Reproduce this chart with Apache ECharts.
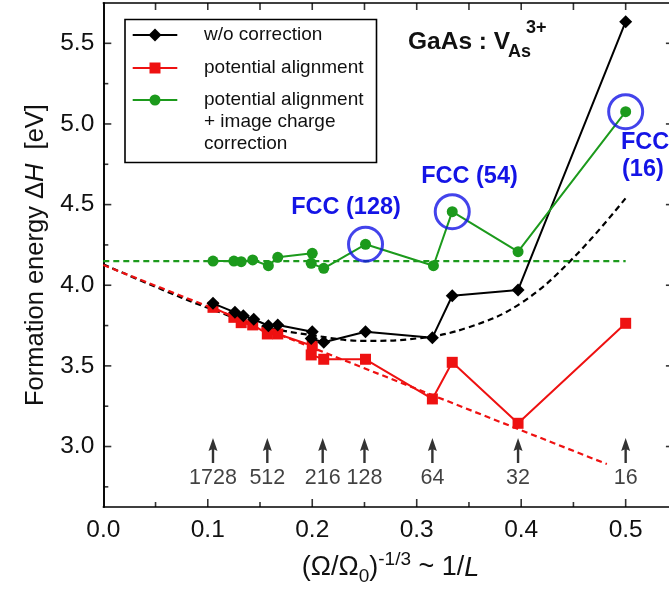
<!DOCTYPE html>
<html><head><meta charset="utf-8">
<script src="https://cdn.jsdelivr.net/npm/echarts@6/dist/echarts.min.js"></script>
<style>html,body{margin:0;padding:0;background:#fff}#c{width:669px;height:593px}</style>
</head><body><div id="c"></div>
<script>
// ---- data ----
const woX = [0.105,0.126,0.134,0.144,0.158,0.167,0.200,0.199,0.211,0.251,0.315,0.334,0.397,0.500];
const woY = [3.888,3.832,3.811,3.789,3.749,3.754,3.712,3.670,3.646,3.712,3.675,3.935,3.971,5.634];
const paX = [0.105,0.125,0.132,0.143,0.157,0.167,0.200,0.199,0.211,0.251,0.315,0.334,0.397,0.500];
const paY = [3.863,3.801,3.768,3.754,3.698,3.698,3.625,3.568,3.541,3.541,3.295,3.522,3.144,3.764];
const icX = [0.105,0.125,0.132,0.143,0.158,0.167,0.200,0.199,0.211,0.251,0.316,0.334,0.397,0.500];
const icY = [4.150,4.150,4.146,4.157,4.121,4.173,4.198,4.136,4.105,4.254,4.121,4.456,4.208,5.076];
const fitWoX = [0,0.05,0.10,0.15,0.20,0.25,0.30,0.35,0.40,0.45,0.50];
const fitWoY = [4.13,3.99,3.86,3.75,3.69,3.655,3.67,3.74,3.89,4.17,4.54];
const fitPaX = [0,0.482];
const fitPaY = [4.125,2.891];
const fitIcX = [0,0.5];
const fitIcY = [4.15,4.15];
const fccX = [0.251,0.334,0.500];
const fccY = [4.254,4.456,5.076];
const cellN = ['1728','512','216','128','64','32','16'];
const cellX = [0.105,0.157,0.210,0.250,0.315,0.397,0.500];
const arrowY = 2.976;
const xMajor = [0,0.1,0.2,0.3,0.4,0.5];
const yMajor = [3.0,3.5,4.0,4.5,5.0,5.5];
const yMinor = [2.75,3.25,3.75,4.25,4.75,5.25];
const xMinor = [0.05,0.15,0.25,0.35,0.45];
const xTop = [0.05,0.1,0.15,0.2,0.25,0.3,0.35,0.4,0.45,0.5];

const X_MIN = 0, X_MAX = 0.55, Y_MIN = 2.625, Y_MAX = 5.75;
const zip = (a,b)=>a.map((v,i)=>[v,b[i]]);
const F = 'Liberation Sans, Arial, Helvetica, sans-serif';
const BLACK='#000000', RED='#ee1111', GREEN='#1c9a1c', BLUE='#1414e6';
const near = (v, arr) => arr.some(a => Math.abs(a - v) < 1e-6);

const chart = echarts.init(document.getElementById('c'), null, {renderer:'canvas'});
const axLine = {show:true, lineStyle:{color:'#000', width:1.6}};
const tickSeries = (data, size, offset) => ({type:'scatter', data, symbol:'rect', symbolSize:size, symbolOffset:offset,
  itemStyle:{color:'#000'}, silent:true, z:8, clip:false});
const option = {
  animation:false,
  grid:{left:103.3, top:3, width:574.6, height:504, containLabel:false, outerBoundsMode:'none'},
  xAxis:[
    {type:'value', position:'bottom', min:X_MIN, max:X_MAX, interval:0.1, axisLine:axLine, splitLine:{show:false},
     axisTick:{show:false},
     axisLabel:{showMaxLabel:false, formatter:v=>near(v,xMajor)?v.toFixed(1):'', fontFamily:F, fontSize:24.5, color:'#111', margin:11},
     name:'{n|(Ω/Ω}{s|0}{n|)}{p|-1/3}{n| ~ 1/}{i|L}', nameLocation:'middle', nameGap:43,
     nameTextStyle:{rich:{
       n:{fontFamily:F,fontSize:27,color:'#111',lineHeight:36,verticalAlign:'middle'},
       s:{fontFamily:F,fontSize:19,color:'#111',lineHeight:31,verticalAlign:'bottom'},
       p:{fontFamily:F,fontSize:19,color:'#111',lineHeight:36,verticalAlign:'top'},
       i:{fontFamily:F,fontSize:27,color:'#111',fontStyle:'italic',lineHeight:36,verticalAlign:'middle'}}}},
    {type:'value', position:'top', min:X_MIN, max:X_MAX, axisLine:axLine, splitLine:{show:false}, axisTick:{show:false}, axisLabel:{show:false}}
  ],
  yAxis:[
    {type:'value', position:'left', min:Y_MIN, max:Y_MAX, interval:0.125, axisLine:axLine, splitLine:{show:false},
     axisTick:{show:false},
     axisLabel:{formatter:v=>near(v,yMajor)?v.toFixed(1):'', fontFamily:F, fontSize:24.5, color:'#111', margin:9},
     name:'{n|Formation energy Δ}{i|H}{n|  [eV]}', nameLocation:'middle', nameRotate:90, nameGap:50,
     nameTextStyle:{rich:{
       n:{fontFamily:F,fontSize:25.5,color:'#111'},
       i:{fontFamily:F,fontSize:25.5,color:'#111',fontStyle:'italic'}}}},
    {type:'value', position:'right', min:Y_MIN, max:Y_MAX, axisLine:axLine, splitLine:{show:false}, axisTick:{show:false}, axisLabel:{show:false}}
  ],
  series:[
    // axis ticks (inward), placed through the axes' own scales
    tickSeries(yMajor.map(v=>[X_MIN,v]), [8,1.6], [4,0]),
    tickSeries(yMinor.map(v=>[X_MIN,v]), [5,1.6], [2.5,0]),
    tickSeries(yMajor.map(v=>[X_MAX,v]), [12,1.6], [-6,0]),
    tickSeries(xMajor.slice(1).map(v=>[v,Y_MIN]), [1.6,8], [0,-4]),
    tickSeries(xMinor.map(v=>[v,Y_MIN]), [1.6,5], [0,-2.5]),
    tickSeries(xTop.map(v=>[v,Y_MAX]), [1.6,7], [0,3.5]),
    // data
    {type:'line', data:zip(fitWoX,fitWoY), smooth:0.4, showSymbol:false, lineStyle:{color:BLACK,width:2.2,type:[6,4]}, z:2},
    {type:'line', data:zip(fitPaX,fitPaY), showSymbol:false, lineStyle:{color:RED,width:2.2,type:[6,4]}, z:2},
    {type:'line', data:zip(fitIcX,fitIcY), showSymbol:false, lineStyle:{color:GREEN,width:2.2,type:[6,4]}, z:2},
    {type:'line', data:zip(paX,paY), symbol:'rect', symbolSize:11, itemStyle:{color:RED}, lineStyle:{color:RED,width:2}, z:3},
    {type:'line', data:zip(woX,woY), symbol:'diamond', symbolSize:[13,13], itemStyle:{color:BLACK}, lineStyle:{color:BLACK,width:2}, z:4},
    {type:'line', data:zip(icX,icY), symbol:'circle', symbolSize:11, itemStyle:{color:GREEN}, lineStyle:{color:GREEN,width:2}, z:5},
    {type:'scatter', data:zip(fccX,fccY), symbol:'circle', symbolSize:34, itemStyle:{color:'rgba(0,0,0,0)', borderColor:BLUE, borderWidth:3}, z:6},
    {type:'scatter', data:cellX.map((x,i)=>({value:[x,arrowY], name:cellN[i]})),
     symbol:'path://M4,0 L8.5,13 L5.2,11.5 L5.2,25 L2.8,25 L2.8,11.5 L-0.5,13 Z', symbolSize:[9,25], itemStyle:{color:'#000'},
     label:{show:true, position:'bottom', distance:4, formatter:p=>p.name, fontFamily:F, fontSize:21.5, color:'#111'}, z:6}
  ],
  graphic:[
    {type:'rect', shape:{x:125,y:19.5,width:251.5,height:143}, style:{fill:'#fff',stroke:'#000',lineWidth:1.6}, z:10},
    {type:'line', shape:{x1:132.7,y1:35,x2:177.3,y2:35}, style:{stroke:BLACK,lineWidth:2}, z:11},
    {type:'polygon', shape:{points:[[155,28.5],[161.5,35],[155,41.5],[148.5,35]]}, style:{fill:BLACK}, z:11},
    {type:'line', shape:{x1:132.7,y1:68,x2:177.3,y2:68}, style:{stroke:RED,lineWidth:2}, z:11},
    {type:'rect', shape:{x:149.5,y:62.5,width:11,height:11}, style:{fill:RED}, z:11},
    {type:'line', shape:{x1:132.7,y1:100,x2:177.3,y2:100}, style:{stroke:GREEN,lineWidth:2}, z:11},
    {type:'circle', shape:{cx:155,cy:100,r:5.5}, style:{fill:GREEN}, z:11},
    {type:'text', x:204, y:35, style:{text:'w/o correction', font:'19px '+F, fill:'#111', verticalAlign:'middle'}, z:11},
    {type:'text', x:204, y:68, style:{text:'potential alignment', font:'19px '+F, fill:'#111', verticalAlign:'middle'}, z:11},
    {type:'text', x:204, y:100, style:{text:'potential alignment', font:'19px '+F, fill:'#111', verticalAlign:'middle'}, z:11},
    {type:'text', x:204, y:122, style:{text:'+ image charge', font:'19px '+F, fill:'#111', verticalAlign:'middle'}, z:11},
    {type:'text', x:204, y:144, style:{text:'correction', font:'19px '+F, fill:'#111', verticalAlign:'middle'}, z:11},
    {type:'text', x:408, y:42, style:{text:'GaAs : V', font:'bold 24.5px '+F, fill:'#111', verticalAlign:'middle'}, z:11},
    {type:'text', x:508, y:52, style:{text:'As', font:'bold 18px '+F, fill:'#111', verticalAlign:'middle'}, z:11},
    {type:'text', x:526, y:28, style:{text:'3+', font:'bold 18px '+F, fill:'#111', verticalAlign:'middle'}, z:11},
    {type:'text', x:346, y:208, style:{text:'FCC (128)', font:'bold 23.5px '+F, fill:BLUE, align:'center', verticalAlign:'middle'}, z:11},
    {type:'text', x:469.5, y:177, style:{text:'FCC (54)', font:'bold 23.5px '+F, fill:BLUE, align:'center', verticalAlign:'middle'}, z:11},
    {type:'text', x:621, y:143, style:{text:'FCC', font:'bold 23.5px '+F, fill:BLUE, verticalAlign:'middle'}, z:11},
    {type:'text', x:622, y:170, style:{text:'(16)', font:'bold 23.5px '+F, fill:BLUE, verticalAlign:'middle'}, z:11}
  ]
};
chart.setOption(option);
</script></body></html>
